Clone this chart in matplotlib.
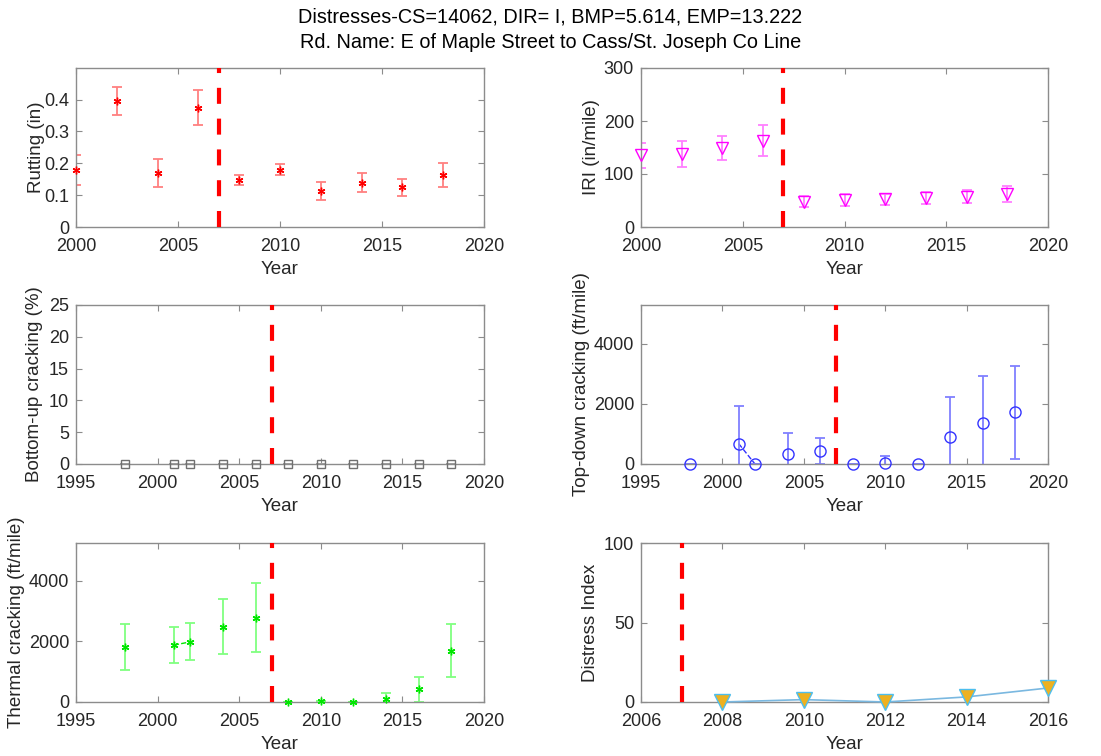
import numpy as np
import matplotlib
matplotlib.use("Agg")
import matplotlib.pyplot as plt
from matplotlib.ticker import FormatStrFormatter

plt.rcParams['font.family'] = ['Liberation Sans', 'DejaVu Sans']
plt.rcParams['font.size'] = 13

# section info
title1 = "Distresses-CS=14062, DIR= I, BMP=5.614, EMP=13.222"
title2 = "Rd. Name: E of Maple Street to Cass/St. Joseph Co Line"
rehab_year = 2007

# rutting (in)
rut_years = [2000, 2002, 2004, 2006, 2008, 2010, 2012, 2014, 2016, 2018]
rut_mean = [0.180, 0.395, 0.170, 0.375, 0.147, 0.180, 0.113, 0.139, 0.125, 0.163]
rut_std = [0.047, 0.045, 0.043, 0.054, 0.016, 0.018, 0.027, 0.030, 0.027, 0.038]

# IRI (in/mile)
iri_years = [2000, 2002, 2004, 2006, 2008, 2010, 2012, 2014, 2016, 2018]
iri_mean = [135, 138, 149, 163, 48, 51, 52, 55, 57, 62]
iri_std = [23, 24, 23, 29, 10, 11, 10, 11, 12, 15]

# bottom-up cracking (%)
bu_years = [1998, 2001, 2002, 2004, 2006, 2008, 2010, 2012, 2014, 2016, 2018]
bu_mean = [0, 0, 0, 0, 0, 0, 0, 0, 0, 0, 0]
bu_std = [0, 0, 0, 0, 0, 0, 0, 0, 0, 0, 0]

# top-down cracking (ft/mile)
td_years = [1998, 2001, 2002, 2004, 2006, 2008, 2010, 2012, 2014, 2016, 2018]
td_mean = [0, 680, 0, 330, 425, 0, 44, 0, 910, 1360, 1730]
td_std = [0, 1270, 0, 700, 430, 0, 234, 0, 1333, 1590, 1550]

# thermal cracking (ft/mile)
tc_years = [1998, 2001, 2002, 2004, 2006, 2008, 2010, 2012, 2014, 2016, 2018]
tc_mean = [1805, 1880, 1985, 2486, 2780, 10, 20, 10, 110, 420, 1697]
tc_std = [757, 600, 613, 906, 1144, 0, 0, 0, 190, 420, 868]

# distress index
di_years = [2008, 2010, 2012, 2014, 2016]
di_vals = [0.0, 1.5, 0.0, 3.2, 8.8]

spine_col = '#8c8c8c'
text_col = '#262626'
asterisk = (6, 2, 0)


def yearly(years, vals):
    # fill the gaps with NaN so only back-to-back years get joined
    yr = np.arange(min(years), max(years) + 1)
    out = np.full(len(yr), np.nan)
    out[np.searchsorted(yr, years)] = vals
    return yr, out


def style(ax, xlim, xticks, ylim, yticks, ylabel, ylab_x):
    ax.set_xlim(xlim)
    ax.set_ylim(ylim)
    ax.set_xticks(xticks)
    ax.set_yticks(yticks)
    ax.set_xlabel("Year", fontsize=13.5, color=text_col, labelpad=4)
    ax.set_ylabel(ylabel, fontsize=13.5, color=text_col)
    ax.yaxis.set_label_coords(ylab_x, 0.5)
    ax.tick_params(direction='in', top=True, right=True, length=4,
                   color=spine_col, labelcolor=text_col, labelsize=13)
    ax.tick_params(axis='x', pad=8)
    ax.tick_params(axis='y', pad=5)
    for s in ax.spines.values():
        s.set_color(spine_col)
        s.set_linewidth(1.0)
    # rehab year marker, dashes run up from the bottom
    ax.axvline(rehab_year, color='red', lw=3, ls=(0, (3.84, 3.55)), zorder=5)


def series(ax, years, mean, std, marker, mcol, ecol, ms, fill='none'):
    yr, full = yearly(years, mean)
    ax.plot(yr, full, ls='--', color=mcol, lw=1)
    ax.errorbar(years, mean, yerr=std, fmt='none', ecolor=ecol,
                elinewidth=1.3, capsize=3.5, capthick=1.3)
    ax.plot(years, mean, ls='none', marker=marker, color=mcol, ms=ms,
            mfc=fill, mec=mcol, mew=1, zorder=4, clip_on=False)


fig = plt.figure(figsize=(11.01, 7.56), dpi=100)
W, H = 1101, 756


def box(x0, x1, y0, y1):
    return [x0 / W, 1 - y1 / H, (x1 - x0) / W, (y1 - y0) / H]


ax1 = fig.add_axes(box(76, 484, 68, 227))
ax2 = fig.add_axes(box(641, 1048, 68, 227))
ax3 = fig.add_axes(box(76, 484, 305, 464))
ax4 = fig.add_axes(box(641, 1048, 305, 464))
ax5 = fig.add_axes(box(76, 484, 543, 702))
ax6 = fig.add_axes(box(641, 1048, 543, 702))

series(ax1, rut_years, rut_mean, rut_std, asterisk, '#ff0000', '#ff8080', 5.5)
style(ax1, (2000, 2020), range(2000, 2021, 5), (0, 0.499), [0, 0.1, 0.2, 0.3, 0.4],
      "Rutting (in)", -0.076)
ax1.yaxis.set_major_formatter(FormatStrFormatter('%g'))

series(ax2, iri_years, iri_mean, iri_std, 'v', '#ff00ff', '#ff80ff', 9)
style(ax2, (2000, 2020), range(2000, 2021, 5), (0, 300), [0, 100, 200, 300],
      "IRI (in/mile)", -0.101)

series(ax3, bu_years, bu_mean, bu_std, 's', '#707070', '#a0a0a0', 6)
style(ax3, (1995, 2020), range(1995, 2021, 5), (0, 25), range(0, 26, 5),
      "Bottom-up cracking (%)", -0.081)

series(ax4, td_years, td_mean, td_std, 'o', '#3333ff', '#8080ff', 8)
style(ax4, (1995, 2020), range(1995, 2021, 5), (0, 5300), [0, 2000, 4000],
      "Top-down cracking (ft/mile)", -0.125)

series(ax5, tc_years, tc_mean, tc_std, asterisk, '#00e600', '#80ff80', 5.5)
style(ax5, (1995, 2020), range(1995, 2021, 5), (0, 5250), [0, 2000, 4000],
      "Thermal cracking (ft/mile)", -0.125)

ax6.plot(di_years, di_vals, color='#7ab8e0', lw=1.2, marker='v', ms=11,
         mfc='#edb120', mec='#4dbeee', mew=1, clip_on=False, zorder=4)
style(ax6, (2006, 2016), range(2006, 2017, 2), (0, 100), [0, 50, 100],
      "Distress Index", -0.103)

fig.text(0.5, 1 - 17 / H, title1, ha='center', va='center', fontsize=14.3, color='black')
fig.text(0.5, 1 - 42 / H, title2, ha='center', va='center', fontsize=14.3, color='black')

fig.savefig("out.png", dpi=100)
